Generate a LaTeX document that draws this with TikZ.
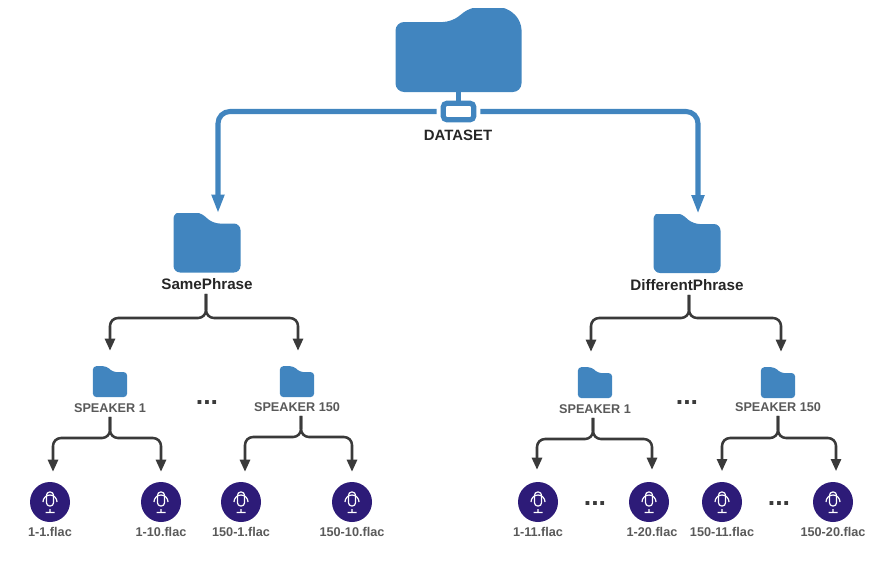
\documentclass[tikz,border=0pt]{standalone}
\usepackage{fontspec}
\setmainfont{Liberation Sans}
\usetikzlibrary{arrows.meta}

\definecolor{fldblue}{HTML}{4185BF}
\definecolor{micblue}{HTML}{2D1B78}
\definecolor{linedark}{HTML}{3A3A3A}

\begin{document}
\begin{tikzpicture}
[
	x=0.75pt,y=-0.75pt,
	rootfld/.style={rectangle,inner sep=0,minimum width=94.5pt,minimum height=63pt,
		path picture={\fill[fldblue,rounded corners=6.5pt]
			(0,42) -- (-63,42) -- (-63,-28) -- (-7,-28) -- (12,-43) -- (48,-43) -- (63,-29) -- (63,42) -- cycle;}},
	fld/.style={rectangle,inner sep=0,minimum width=#1*50.25pt,minimum height=#1*44.25pt,
		path picture={\fill[fldblue,rounded corners=#1*5pt,x=#1*0.75pt,y=-#1*0.75pt]
			(0,29.5) -- (-33.5,29.5) -- (-33.5,-31) -- (-7,-31) -- (6,-19.5) -- (33.5,-19.5) -- (33.5,29.5) -- cycle;}},
	hubbox/.style={rectangle,rounded corners=3pt,draw=fldblue,fill=white,line width=3.9pt,inner sep=0,minimum width=23pt,minimum height=12.5pt},
	mic/.style={circle,fill=micblue,inner sep=0,minimum size=30pt,
		path picture={\draw[white,line width=0.9pt,rounded corners=2.4pt] (-3.5,-10) rectangle (3.5,4);
			\draw[white,line width=0.9pt] (-7,0) arc[start angle=180,end angle=360,radius=7]
			(0,7) -- (0,10.5) (-4.5,10.5) -- (4.5,10.5);}},
	toplab/.style={font=\bfseries\fontsize{11.2}{13}\selectfont,text=black!85,inner sep=0},
	midlab/.style={font=\bfseries\fontsize{11.4}{13}\selectfont,text=black!85,inner sep=0},
	splab/.style={font=\bfseries\fontsize{9.5}{11}\selectfont,text=black!65,inner sep=0},
	flaclab/.style={font=\bfseries\fontsize{9.5}{11}\selectfont,text=black!65,inner sep=0},
	gap/.style={font=\bfseries\fontsize{20}{20}\selectfont,text=linedark,inner sep=0},
	bluearr/.style={draw=fldblue,line width=3.8pt,rounded corners=9pt,shorten <=3pt,-{Triangle[length=14pt,width=9pt]}},
	brarr/.style={draw=linedark,line width=1.9pt,rounded corners=6pt,-{Triangle[length=9pt,width=7.5pt]}}
]
\useasboundingbox (0,0) rectangle (891,561);

\node[rootfld] (root) at (458.5,50) {};
\node[hubbox] (hub) at (458.5,111.5) {};
\node[toplab] (rootlab) at (458,135) {DATASET};

\node[fld=1] (same) at (207,243) {};
\node[midlab] (samelab) at (207,284) {SamePhrase};
\node[fld=1] (diff) at (687,243.5) {};
\node[midlab] (difflab) at (687,285) {DifferentPhrase};

\node[fld=0.51] (sa) at (110,382) {};
\node[splab] (salab) at (110,408) {SPEAKER 1};
\node[fld=0.51] (sb) at (297,382) {};
\node[splab] (sblab) at (297,407) {SPEAKER 150};
\node[fld=0.51] (da) at (595,383) {};
\node[splab] (dalab) at (595,409) {SPEAKER 1};
\node[fld=0.51] (db) at (778,383) {};
\node[splab] (dblab) at (778,407) {SPEAKER 150};

\node[gap] (gap1) at (207,403) {...};
\node[gap] (gap2) at (687,403) {...};
\node[gap] (gap3) at (595,504) {...};
\node[gap] (gap4) at (779,504) {...};

\node[mic] (m1) at (50,502) {};
\node[mic] (m2) at (161,502) {};
\node[mic] (m3) at (241,502) {};
\node[mic] (m4) at (352,502) {};
\node[mic] (m5) at (538,502) {};
\node[mic] (m6) at (649,502) {};
\node[mic] (m7) at (722,502) {};
\node[mic] (m8) at (833,502) {};

\node[flaclab] (f1) at (50,532) {1-1.flac};
\node[flaclab] (f2) at (161,532) {1-10.flac};
\node[flaclab] (f3) at (241,532) {150-1.flac};
\node[flaclab] (f4) at (352,532) {150-10.flac};
\node[flaclab] (f5) at (538,532) {1-11.flac};
\node[flaclab] (f6) at (652,532) {1-20.flac};
\node[flaclab] (f7) at (722,532) {150-11.flac};
\node[flaclab] (f8) at (833,532) {150-20.flac};

\coordinate (jsame) at (206,318);
\coordinate (jdiff) at (689,318);
\coordinate (jsa) at (110,438);
\coordinate (jsb) at (301,437);
\coordinate (jda) at (593,439);
\coordinate (jdb) at (778,438);

\draw[draw=fldblue,line width=3.8pt] (root.south) -- (hub.north);
\draw[bluearr] (hub.west) -| ([xshift=8.25pt]same.north);
\draw[bluearr] (hub.east) -| ([xshift=8.25pt]diff.north);

\draw[brarr,shorten >=12pt] ([xshift=-0.75pt,yshift=-3pt]samelab.south) -- (jsame) -| (sa.north);
\draw[brarr,shorten >=12pt] ([xshift=-0.75pt,yshift=-3pt]samelab.south) -- (jsame) -| ([xshift=0.75pt]sb.north);
\draw[brarr,shorten >=12pt] ([xshift=1.5pt,yshift=-3pt]difflab.south) -- (jdiff) -| ([xshift=-3pt]da.north);
\draw[brarr,shorten >=12pt] ([xshift=1.5pt,yshift=-3pt]difflab.south) -- (jdiff) -| ([xshift=2.25pt]db.north);

\draw[brarr,shorten >=7.5pt] ([yshift=-3pt]salab.south) -- (jsa) -| ([xshift=2.25pt]m1.north);
\draw[brarr,shorten >=7.5pt] ([yshift=-3pt]salab.south) -- (jsa) -| (m2.north);
\draw[brarr,shorten >=7.5pt] ([xshift=3pt,yshift=-3pt]sblab.south) -- (jsb) -| ([xshift=3pt]m3.north);
\draw[brarr,shorten >=7.5pt] ([xshift=3pt,yshift=-3pt]sblab.south) -- (jsb) -| (m4.north);
\draw[brarr,shorten >=9pt] ([xshift=-1.5pt,yshift=-3pt]dalab.south) -- (jda) -| ([xshift=-0.75pt]m5.north);
\draw[brarr,shorten >=9pt] ([xshift=-1.5pt,yshift=-3pt]dalab.south) -- (jda) -| ([xshift=2.25pt]m6.north);
\draw[brarr,shorten >=8pt] ([yshift=-3pt]dblab.south) -- (jdb) -| (m7.north);
\draw[brarr,shorten >=8pt] ([yshift=-3pt]dblab.south) -- (jdb) -| ([xshift=2.25pt]m8.north);

\end{tikzpicture}
\end{document}
